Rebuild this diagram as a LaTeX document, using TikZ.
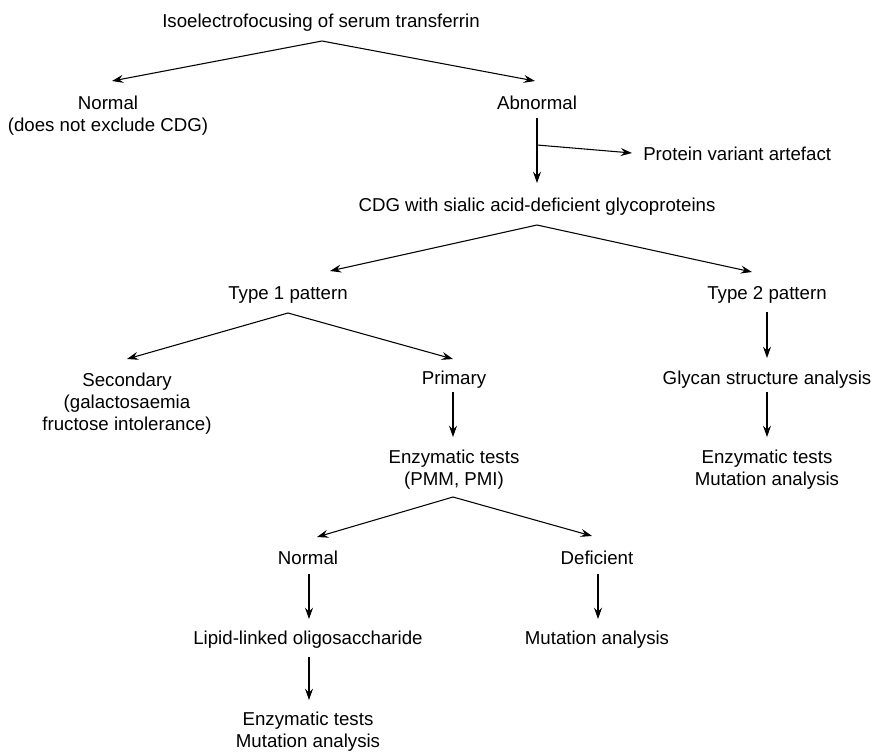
\documentclass[tikz,border=0pt]{standalone}
\usepackage{fontspec}
\setmainfont{Liberation Sans}
\usetikzlibrary{arrows.meta}
\begin{document}
\begin{tikzpicture}[x=0.75pt,y=-0.75pt,
  lbl/.style={anchor=base, align=center, inner sep=0pt, font=\fontsize{14}{16.5}\selectfont},
  lblw/.style={lbl, anchor=base west},
  arr/.style={-{Stealth[length=8.5pt,width=6pt,inset=3pt]}, line width=0.8pt},
  arrb/.style={{Stealth[length=8.5pt,width=6pt,inset=3pt]}-{Stealth[length=8.5pt,width=6pt,inset=3pt]}, line width=0.8pt, line join=miter}]
\useasboundingbox (0,0) rectangle (874,751);
% texts (base anchor = baseline of the last line)
\node[lbl] (iso) at (321,27) {Isoelectrofocusing of serum transferrin};
\node[lbl] (norm1) at (108,131) {Normal\\(does not exclude CDG)};
\node[lbl] (abn) at (537,109) {Abnormal};
\node[lblw] (prot) at (643,160) {Protein variant artefact};
\node[lbl] (cdg) at (537,211) {CDG with sialic acid-deficient glycoproteins};
\node[lbl] (t1) at (288,299) {Type 1 pattern};
\node[lbl] (t2) at (767,299) {Type 2 pattern};
\node[lbl] (sec) at (127,430) {Secondary\\(galactosaemia\\fructose intolerance)};
\node[lbl] (prim) at (454,384) {Primary};
\node[lbl] (gly) at (767,384) {Glycan structure analysis};
\node[lbl] (enz1) at (454,485) {Enzymatic tests\\(PMM, PMI)};
\node[lbl] (enz2) at (767,485) {Enzymatic tests\\Mutation analysis};
\node[lbl] (norm2) at (308,564) {Normal};
\node[lbl] (def) at (597,564) {Deficient};
\node[lbl] (lip) at (308,644) {Lipid-linked oligosaccharide};
\node[lbl] (mut) at (597,644) {Mutation analysis};
\node[lbl] (enz3) at (308,747) {Enzymatic tests\\Mutation analysis};
% junction and end coordinates
\coordinate (j1) at (322,41);
\coordinate (e1a) at (112,81);
\coordinate (e1b) at (535,81);
\coordinate (v1s) at (537,118);
\coordinate (v1e) at (537,183);
\coordinate (b1s) at (537,145);
\coordinate (b1e) at (632,153);
\coordinate (j2) at (537,225);
\coordinate (e2a) at (330,271);
\coordinate (e2b) at (752,272);
\coordinate (v2s) at (767,312);
\coordinate (v2e) at (767,358);
\coordinate (j3) at (288,313);
\coordinate (e3a) at (127,359);
\coordinate (e3b) at (453,359);
\coordinate (v3s) at (453,392);
\coordinate (v3e) at (453,437);
\coordinate (v4s) at (767,392);
\coordinate (v4e) at (767,437);
\coordinate (j4) at (453,497);
\coordinate (e4a) at (317,537);
\coordinate (e4b) at (592,536);
\coordinate (v5s) at (309,574);
\coordinate (v5e) at (309,619);
\coordinate (v6s) at (598,574);
\coordinate (v6e) at (598,619);
\coordinate (v7s) at (309,657);
\coordinate (v7e) at (309,700);
% connectors
\draw[arrb] (e1a) -- (j1) -- (e1b);
\draw[arr] (v1s) -- (v1e);
\draw[arr] (b1s) -- (b1e);
\draw[arrb] (e2a) -- (j2) -- (e2b);
\draw[arr] (v2s) -- (v2e);
\draw[arrb] (e3a) -- (j3) -- (e3b);
\draw[arr] (v3s) -- (v3e);
\draw[arr] (v4s) -- (v4e);
\draw[arrb] (e4a) -- (j4) -- (e4b);
\draw[arr] (v5s) -- (v5e);
\draw[arr] (v6s) -- (v6e);
\draw[arr] (v7s) -- (v7e);
\end{tikzpicture}
\end{document}
